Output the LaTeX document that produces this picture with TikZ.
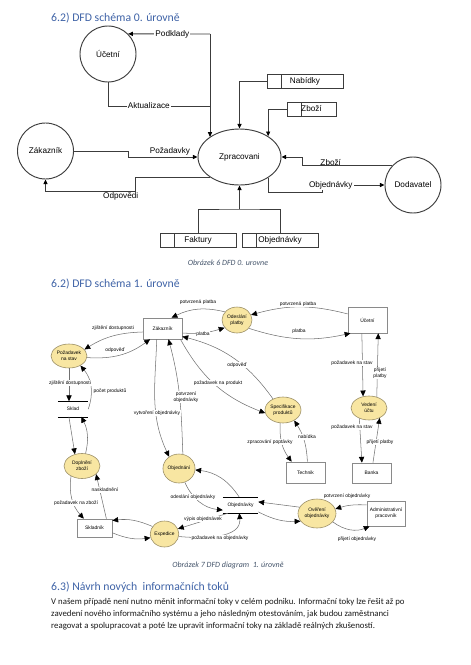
\documentclass[tikz,border=0pt]{standalone}
\usepackage{fontspec}
\setmainfont{Carlito}
\newfontfamily\dfdfont{Liberation Sans}
\usepackage{xcolor}
\usetikzlibrary{arrows.meta, positioning, calc, shapes.geometric}

\definecolor{headblue}{HTML}{3E62A6}
\definecolor{capgray}{HTML}{44546A}
\definecolor{line0}{HTML}{3C3C3C}
\definecolor{procfill}{HTML}{F8E6A2}
\definecolor{procline}{HTML}{9A8E66}
\definecolor{boxline}{HTML}{8A8A8A}
\definecolor{flowline}{HTML}{707070}
\newcommand{\pxu}{0.03cm}

\begin{document}
\begin{tikzpicture}[x=0.03cm, y=-0.03cm,
    head/.style={font=\fontsize{10}{12}\selectfont, text=headblue, inner sep=0pt, anchor=west},
    capt/.style={font=\itshape\fontsize{6.8}{8}\selectfont, text=capgray, inner sep=0pt},
    para/.style={font=\fontsize{7.5}{9}\selectfont, text=black!90, inner sep=0pt, anchor=west},
    proc0/.style={draw=line0, line width=0.8pt, circle, minimum size=56*\pxu, inner sep=0pt, font=\dfdfont\fontsize{7}{8}\selectfont},
    store0/.style={draw=line0, line width=0.8pt, minimum height=14*\pxu, inner sep=0pt, font=\dfdfont\fontsize{7}{8}\selectfont,
        path picture={\draw[line0, line width=0.8pt] ([xshift=14*\pxu]path picture bounding box.north west) -- ([xshift=14*\pxu]path picture bounding box.south west);}},
    plain0/.style={draw=line0, line width=0.8pt},
    flow0/.style={plain0, -{Triangle[length=4pt, width=3.5pt, color=black]}},
    lbl0/.style={font=\dfdfont\fontsize{7}{8}\selectfont, fill=white, inner sep=1pt},
    proc1/.style={ellipse, draw=procline, fill=procfill, line width=0.5pt, inner sep=0pt, align=center, font=\dfdfont\fontsize{4.2}{4.8}\selectfont},
    ent1/.style={rectangle, draw=boxline, line width=0.5pt, inner sep=0pt, align=center, font=\dfdfont\fontsize{4.2}{4.8}\selectfont},
    store1/.style={rectangle, inner sep=0pt, font=\dfdfont\fontsize{4.2}{4.8}\selectfont,
        append after command={[line width=1.2pt] (\tikzlastnode.north west) edge (\tikzlastnode.north east)
                                                 (\tikzlastnode.south west) edge (\tikzlastnode.south east)}},
    flow1/.style={draw=flowline, line width=0.45pt, -{Triangle[length=5pt, width=4.5pt, color=black]}},
    lbl1/.style={font=\dfdfont\fontsize{4.2}{4.8}\selectfont, fill=white, inner sep=0.6pt, align=center}]
  \useasboundingbox (0,0) rectangle (470,665);

  % headings and text
  \node[head] (h1) at (51,18) {6.2) DFD schéma 0. úrovně};
  \node[capt] (c1) at (228,263) {Obrázek 6 DFD 0. urovne};
  \node[head] (h2) at (51,284) {6.2) DFD schéma 1. úrovně};
  \node[capt] (c2) at (228,565) {Obrázek 7 DFD diagram \ 1. úrovně};
  \node[head] (h3) at (51,587) {6.3) Návrh nových \ informačních toků};
  \node[para] (p1) at (51,602) {V našem případě není nutno měnit informační toky v celém podniku. Informační toky lze řešit až po};
  \node[para] (p2) at (51,614) {zavedení nového informačního systému a jeho následným otestováním, jak budou zaměstnanci};
  \node[para] (p3) at (51,626) {reagovat a spolupracovat a poté lze upravit informační toky na základě reálných zkušeností.};

  % DFD level 0
  \node[proc0] (uc0) at (108,54) {Účetní};
  \node[proc0] (zak0) at (45.5,151) {Zákazník};
  \node[proc0] (dod) at (413,185) {Dodavatel};
  \node[proc0, ellipse, minimum width=83*\pxu, minimum height=56*\pxu] (zpr) at (239.5,157) {Zpracovani};
  \node[store0, minimum width=76*\pxu] (nab) at (305,81) {Nabídky};
  \node[store0, minimum width=49*\pxu] (zbo) at (311.5,109) {Zboží};
  \node[store0, minimum width=76*\pxu] (fak) at (198,240) {Faktury};
  \node[store0, minimum width=76*\pxu] (objs) at (280,240) {Objednávky};

  \coordinate (jp) at (210,34);
  \coordinate (ja) at (210,106);
  \coordinate (jo) at (135,191);
  \coordinate (jz) at (302,157);
  \coordinate (jb) at (322,192);
  \coordinate (jf) at (239.5,209);

  \draw[flow0] (jp) -- node[lbl0, pos=0.46]{Podklady} (uc0.45);
  \draw[plain0] (uc0.south) |- node[lbl0, pos=0.7]{Aktualizace} (ja);
  \draw[flow0] (jp) -- (jp |- zpr.146);
  \draw[flow0] (nab.west) -| (zpr.north);
  \draw[flow0] (zbo.west) -| (zpr.36);
  \draw[flow0] (zak0.east) -- ++(54.5,0) |- node[lbl0, fill=none, pos=0.8, above]{Požadavky} (zpr.west);
  \draw[flow0] (zpr.215) -| (jo) -| node[lbl0, fill=none, pos=0.08, below, inner sep=0.5pt]{Odpovědi} (zak0.south);
  \draw[flow0] (dod.138) -| node[lbl0, fill=none, pos=0.34, above, inner sep=0.3pt]{Zboží} (jz) -- (zpr.east);
  \draw[flow0] (zpr.-36) |- (jb) |- node[lbl0, pos=0.57]{Objednávky} (dod.west);
  \draw[plain0] (fak.north) |- (jf) -| (objs.north);
  \draw[flow0] (jf) -- (zpr.south);

  % DFD level 1
  \node[ent1, minimum width=39*\pxu, minimum height=21*\pxu] (zak1) at (162.5,328.5) {Zákazník};
  \node[proc1, minimum width=36*\pxu, minimum height=24*\pxu] (pns) at (69,356) {Požadavek\\na stav};
  \node[proc1, minimum width=30*\pxu, minimum height=26*\pxu] (odp) at (237,320) {Odeslání\\platby};
  \node[ent1, minimum width=39*\pxu, minimum height=26*\pxu] (uc1) at (367.5,320) {Účetní};
  \node[store1, minimum width=30*\pxu, minimum height=15*\pxu] (sklad) at (73,409) {Sklad};
  \node[proc1, minimum width=36*\pxu, minimum height=25*\pxu] (dopl) at (82,466) {Doplnění\\zboží};
  \node[ent1, minimum width=35*\pxu, minimum height=18*\pxu] (skl) at (94.5,528) {Skladník};
  \node[proc1, minimum width=26*\pxu, minimum height=26*\pxu] (exp) at (164.5,534) {Expedice};
  \node[proc1, minimum width=32*\pxu, minimum height=29*\pxu] (obj) at (179,468.5) {Objednání};
  \node[store1, minimum width=35*\pxu, minimum height=16*\pxu] (objst) at (240.5,505) {Objednávky};
  \node[proc1, minimum width=38*\pxu, minimum height=29*\pxu] (over) at (317,513.5) {Ověření\\objednávky};
  \node[ent1, minimum width=38*\pxu, minimum height=25*\pxu] (adm) at (386,513.5) {Administrativní\\pracovník};
  \node[proc1, minimum width=36*\pxu, minimum height=26*\pxu] (spec) at (283,410) {Specifikace\\produktů};
  \node[ent1, minimum width=39*\pxu, minimum height=21*\pxu] (tech) at (305.5,472.5) {Technik};
  \node[proc1, minimum width=36*\pxu, minimum height=24*\pxu] (ved) at (369,408) {Vedení\\účtu};
  \node[ent1, minimum width=39*\pxu, minimum height=20*\pxu] (banka) at (371.5,473) {Banka};

  \draw[flow1] (uc1.163) to[bend right=15] (odp.20);
  \draw[flow1] (odp.-35) to[bend right=15] (uc1.-142);
  \draw[flow1] (odp.146) to[bend right=20] (zak1.50);
  \draw[flow1] (zak1.-13) to[bend right=10] (odp.212);
  \draw[flow1] (zak1.-170) to[bend right=15] (pns.23);
  \draw[flow1] (pns.-5) to[bend right=20] (zak1.221);
  \draw[flow1] (pns.south) -- (pns.south |- sklad.north);
  \draw[flow1] (sklad.east) to[bend right=30] (pns.-40);
  \draw[flow1] (sklad.-118) -- (dopl.121);
  \draw[flow1] (dopl.74) to[bend right=20] (sklad.-43);
  \draw[flow1] (dopl.-137) to[bend right=25] (skl.139);
  \draw[flow1] (skl.38) -- (dopl.-30);
  \draw[flow1] (exp.148) to[bend right=15] (skl.23);
  \draw[flow1] (skl.-15) to[bend right=15] (exp.195);
  \draw[flow1] (zak1.-118) to[out=-92, in=115] (obj.130);
  \draw[flow1] (obj.75) to[out=92, in=-75] (zak1.-61);
  \draw[flow1] (zak1.-31) to[bend right=20] (spec.190);
  \draw[flow1] (spec.132) to[bend right=20] (zak1.-22);
  \draw[flow1] (spec.-102) to[bend right=20] (tech.142);
  \draw[flow1] (tech.80) to[bend right=15] (spec.-43);
  \draw[flow1] (uc1.-113) -- (ved.117);
  \draw[flow1] (ved.55) -- (uc1.-51);
  \draw[flow1] (ved.-133) -- (banka.133);
  \draw[flow1] (banka.82) -- (ved.-43);
  \draw[flow1] (obj.-67) to[bend right=30] (objst.196);
  \draw[flow1] (objst.100) to[bend right=25] (obj.-5);
  \draw[flow1] (objst.-147) -- (exp.21);
  \draw[flow1] (exp.-10) to[out=-5, in=-85] (objst.-98);
  \draw[flow1] (over.160) -- (objst.10);
  \draw[flow1] (objst.-21) to[bend right=15] (over.205);
  \draw[flow1] (adm.156) to[bend right=10] (over.14);
  \draw[flow1] (over.-28) to[bend right=30] (adm.-142);

  % flow labels level 1
  \node[lbl1] (l1) at (298,304) {potvrzená platba};
  \node[lbl1] (l2) at (299,331) {platba};
  \node[lbl1] (l3) at (198,302) {potvrzená platba};
  \node[lbl1] (l4) at (203,334) {platba};
  \node[lbl1] (l5) at (113,328) {zjištění dostupnosti};
  \node[lbl1] (l6) at (115,350) {odpověď};
  \node[lbl1] (l7) at (70,383) {zjištění dostupnosti};
  \node[lbl1] (l8) at (110,391) {počet produktů};
  \node[lbl1] (l9) at (76,503) {požadavek na zboží};
  \node[lbl1] (l10) at (105,490) {naskladnění};
  \node[lbl1] (l11) at (157,413) {vytvoření objednávky};
  \node[lbl1] (l12) at (186,397) {potvrzení\\objednávky};
  \node[lbl1] (l13) at (237,365) {odpověď};
  \node[lbl1] (l14) at (218,383) {požadavek na produkt};
  \node[lbl1] (l15) at (270,442) {zpracování poptávky};
  \node[lbl1] (l16) at (307,437) {nabídka};
  \node[lbl1] (l17) at (352,363) {požadavek na stav};
  \node[lbl1] (l18) at (380,373) {přijetí\\platby};
  \node[lbl1] (l19) at (352,427) {požadavek na stav};
  \node[lbl1] (l20) at (380,442) {přijetí platby};
  \node[lbl1] (l21) at (193,497) {odeslání objednávky};
  \node[lbl1] (l22) at (203,519) {výpis objednávek};
  \node[lbl1] (l23) at (220,538) {požadavek na objednávky};
  \node[lbl1] (l24) at (347,496) {potvrzení objednávky};
  \node[lbl1] (l25) at (357,539) {přijetí objednávky};
\end{tikzpicture}
\end{document}
